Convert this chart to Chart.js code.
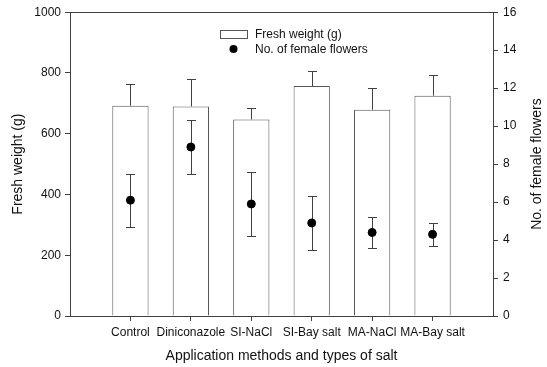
<!DOCTYPE html>
<html>
<head>
<meta charset="utf-8">
<script src="https://cdn.jsdelivr.net/npm/chart.js@4.4.1/dist/chart.umd.min.js"></script>
<style>
  html, body { margin: 0; padding: 0; background: #fff; }
  #wrap { width: 547px; height: 367px; }
</style>
</head>
<body>
<div id="wrap"><canvas id="grafico" width="547" height="367"></canvas></div>
<script>
const categorias = ["Control", "Diniconazole", "SI-NaCl", "SI-Bay salt", "MA-NaCl", "MA-Bay salt"];
const pesoFresco = [692, 690, 647, 757, 679, 725];
const pesoFrescoErro = [73, 90, 39, 48, 72, 68];
const flores = [6.1, 8.9, 5.9, 4.9, 4.4, 4.3];
const floresErro = [1.4, 1.4, 1.7, 1.4, 0.8, 0.6];
const ticksPeso = [0, 200, 400, 600, 800, 1000];
const ticksFlores = [0, 2, 4, 6, 8, 10, 12, 14, 16];
const tituloDireita = "No. of female flowers";

const corLinha = "#404040";
const fonte = "'Liberation Sans', Arial, sans-serif";

// barras de erro + moldura + legenda + titulo do eixo direito
const extras = {
  id: "extras",
  afterDatasetDraw(chart, args) {
    if (args.index !== 0) return;
    const ctx = chart.ctx;
    const x = chart.scales.x;
    const y = chart.scales.y;
    const cap = 4.5;
    ctx.save();
    ctx.strokeStyle = corLinha;
    ctx.lineWidth = 1;
    pesoFresco.forEach((v, i) => {
      const px = Math.round(x.getPixelForValue(i + 1)) + 0.5;
      const y0 = y.getPixelForValue(v);
      const y1 = Math.round(y.getPixelForValue(v + pesoFrescoErro[i])) + 0.5;
      ctx.beginPath();
      ctx.moveTo(px, y0); ctx.lineTo(px, y1);
      ctx.moveTo(px - cap, y1); ctx.lineTo(px + cap, y1);
      ctx.stroke();
    });
    ctx.restore();
  },
  beforeDatasetDraw(chart, args) {
    if (args.index !== 1) return;
    const ctx = chart.ctx;
    const x = chart.scales.x;
    const y = chart.scales.y1;
    const cap = 4.5;
    ctx.save();
    ctx.strokeStyle = corLinha;
    ctx.lineWidth = 1;
    flores.forEach((v, i) => {
      const px = Math.round(x.getPixelForValue(i + 1)) + 0.5;
      const yt = Math.round(y.getPixelForValue(v + floresErro[i])) + 0.5;
      const yb = Math.round(y.getPixelForValue(v - floresErro[i])) + 0.5;
      ctx.beginPath();
      ctx.moveTo(px, yt); ctx.lineTo(px, yb);
      ctx.moveTo(px - cap, yt); ctx.lineTo(px + cap, yt);
      ctx.moveTo(px - cap, yb); ctx.lineTo(px + cap, yb);
      ctx.stroke();
    });
    ctx.restore();
  },
  afterDraw(chart) {
    const ctx = chart.ctx;
    const a = chart.chartArea;
    ctx.save();
    ctx.strokeStyle = corLinha;
    ctx.lineWidth = 1;
    ctx.beginPath();
    ctx.moveTo(a.left, Math.round(a.top) + 0.5);
    ctx.lineTo(a.right, Math.round(a.top) + 0.5);
    ctx.stroke();

    // legenda
    const ds = chart.data.datasets;
    ctx.fillStyle = "#fff";
    ctx.strokeStyle = "#555";
    ctx.fillRect(220.5, 30.5, 27, 8);
    ctx.strokeRect(220.5, 30.5, 27, 8);
    ctx.fillStyle = "#000";
    ctx.beginPath();
    ctx.arc(233.5, 49, 4, 0, Math.PI * 2);
    ctx.fill();
    ctx.font = "12px " + fonte;
    ctx.textBaseline = "middle";
    ctx.fillStyle = "#111";
    ctx.fillText(ds[0].label, 255, 35);
    ctx.fillText(ds[1].label, 255, 49.5);

    // titulo do eixo direito, lido de baixo para cima
    ctx.translate(537, (a.top + a.bottom) / 2);
    ctx.rotate(-Math.PI / 2);
    ctx.textAlign = "center";
    ctx.font = "14px " + fonte;
    ctx.fillText(tituloDireita, 0, 0);
    ctx.restore();
  }
};

new Chart(document.getElementById("grafico"), {
  type: "bar",
  data: {
    datasets: [
      {
        type: "bar",
        label: "Fresh weight (g)",
        data: pesoFresco.map((v, i) => ({ x: i + 1, y: v })),
        yAxisID: "y",
        backgroundColor: "#fff",
        borderColor: "#555",
        borderWidth: 1,
        categoryPercentage: 1,
        barPercentage: 0.6,
        order: 2
      },
      {
        type: "line",
        label: "No. of female flowers",
        data: flores.map((v, i) => ({ x: i + 1, y: v })),
        yAxisID: "y1",
        showLine: false,
        pointRadius: 4,
        pointBackgroundColor: "#000",
        pointBorderColor: "#000",
        order: 1
      }
    ]
  },
  options: {
    responsive: false,
    animation: false,
    layout: { padding: { top: 11, left: 0, right: 0, bottom: 0 } },
    plugins: { legend: { display: false }, tooltip: { enabled: false } },
    scales: {
      x: {
        type: "linear",
        offset: false,
        min: 0,
        max: 7,
        afterBuildTicks: (s) => { s.ticks = categorias.map((c, i) => ({ value: i + 1 })); },
        afterFit: (s) => { s.height = 51; },
        grid: { drawOnChartArea: false, tickLength: 5, color: corLinha, offset: false },
        border: { color: corLinha },
        ticks: {
          autoSkip: false,
          maxRotation: 0,
          padding: 4,
          color: "#111",
          font: { size: 12, family: fonte },
          callback: (v) => categorias[v - 1]
        },
        title: {
          display: true,
          text: "Application methods and types of salt",
          color: "#111",
          font: { size: 14, family: fonte },
          padding: { bottom: 2 }
        }
      },
      y: {
        position: "left",
        min: 0,
        max: 1000,
        afterBuildTicks: (s) => { s.ticks = ticksPeso.map(v => ({ value: v })); },
        afterFit: (s) => { s.width = 70; },
        grid: { drawOnChartArea: false, tickLength: 5, color: corLinha },
        border: { color: corLinha },
        ticks: { padding: 4, color: "#111", font: { size: 12, family: fonte }, callback: (v) => String(v) },
        title: {
          display: true,
          text: "Fresh weight (g)",
          color: "#111",
          font: { size: 14, family: fonte },
          padding: { top: 10 }
        }
      },
      y1: {
        position: "right",
        min: 0,
        max: 16,
        afterBuildTicks: (s) => { s.ticks = ticksFlores.map(v => ({ value: v })); },
        afterFit: (s) => { s.width = 54; },
        grid: { drawOnChartArea: false, tickLength: 5, color: corLinha },
        border: { color: corLinha },
        ticks: { padding: 5, color: "#111", font: { size: 12, family: fonte }, callback: (v) => String(v) }
      }
    }
  },
  plugins: [extras]
});
</script>
</body>
</html>
